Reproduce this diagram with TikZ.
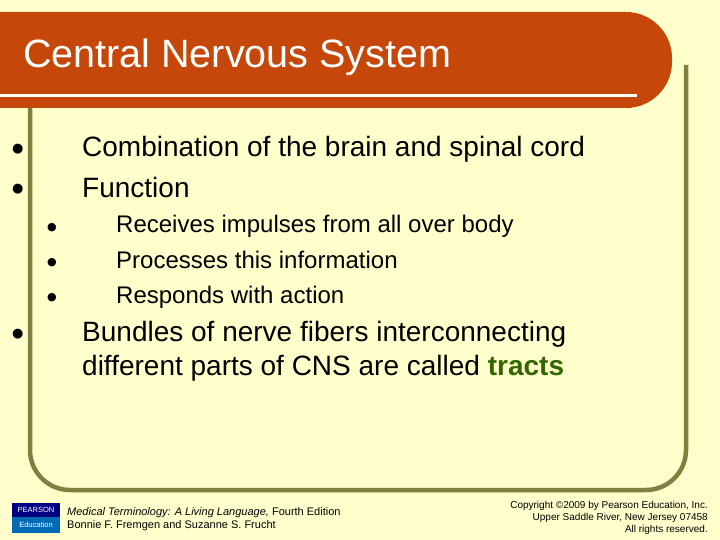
\documentclass[tikz,border=0pt]{standalone}
\usepackage{fontspec}
\setmainfont{Liberation Sans}
\newfontfamily\djfont{DejaVu Sans}
\definecolor{bg}{HTML}{FFFFCC}
\definecolor{hdr}{HTML}{C5480A}
\definecolor{olive}{HTML}{808040}
\definecolor{tgreen}{HTML}{336600}
\begin{document}
\begin{tikzpicture}[x=1pt,y=-1pt,
  big/.style={anchor=base west,inner sep=0,font=\fontsize{28}{32}\selectfont},
  small/.style={anchor=base west,inner sep=0,font=\fontsize{24}{28}\selectfont},
  bul/.style={anchor=base west,inner sep=0,font=\djfont\fontsize{13}{16}\selectfont},
  sbul/.style={anchor=base west,inner sep=0,font=\djfont\fontsize{11}{12}\selectfont},
  foot/.style={inner sep=0,font=\fontsize{11}{12}\selectfont},
  copy/.style={inner sep=0,anchor=base east,font=\fontsize{10}{12}\selectfont}]
\fill[bg] (0,0) rectangle (720,540);
\useasboundingbox (0,0) rectangle (720,540);
% frame
\draw[olive,line width=4.5pt,rounded corners=40pt] (30,108) -- (30,490) -- (686,490) -- (686,65);
% header
\fill[hdr,rounded corners=46pt] (-50,12) rectangle (672,108);
\fill[hdr] (0,12) rectangle (100,108);
\draw[white,line width=3pt] (0,96) -- (637,96);
\node[anchor=base west,inner sep=0,text=white,font=\fontsize{39.5}{44}\selectfont] (title) at (23,68) {Central Nervous System};
% bullets
\node[bul] (b1) at (12,153) {●};
\node[big] (t1) at (82,157) {Combination of the brain and spinal cord};
\node[bul] (b2) at (12,193) {●};
\node[big] (t2) at (82,197) {Function};
\node[sbul] (s1) at (47,230) {●};
\node[small] (u1) at (116,233) {Receives impulses from all over body};
\node[sbul] (s2) at (47,265) {●};
\node[small] (u2) at (116,268) {Processes this information};
\node[sbul] (s3) at (47,300) {●};
\node[small] (u3) at (116,303) {Responds with action};
\node[bul] (b3) at (12,337) {●};
\node[big] (t3) at (82,341) {Bundles of nerve fibers interconnecting};
\node[big] (t4) at (82,375) {different parts of CNS are called \textcolor{tgreen}{\bfseries tracts}};
% logo
\fill[blue!50!black] (12,503) rectangle (60,533);
\fill[blue!40!cyan!70!black] (12,517) rectangle (60,533);
\node[text=white,inner sep=0,font=\fontsize{7.5}{8}\selectfont] (lg1) at (36,510) {PEARSON};
\node[text=white,inner sep=0,font=\fontsize{7.5}{8}\selectfont] (lg2) at (36,525) {Education};
\node[foot,anchor=base west] (f1) at (67,515) {\itshape Medical Terminology: A Living Language,\upshape{} Fourth Edition};
\node[foot,anchor=base west] (f2) at (67,528) {Bonnie F. Fremgen and Suzanne S. Frucht};
\node[copy] (c1) at (708,508) {Copyright ©2009 by Pearson Education, Inc.};
\node[copy] (c2) at (708,520) {Upper Saddle River, New Jersey 07458};
\node[copy] (c3) at (708,532) {All rights reserved.};
\end{tikzpicture}
\end{document}
